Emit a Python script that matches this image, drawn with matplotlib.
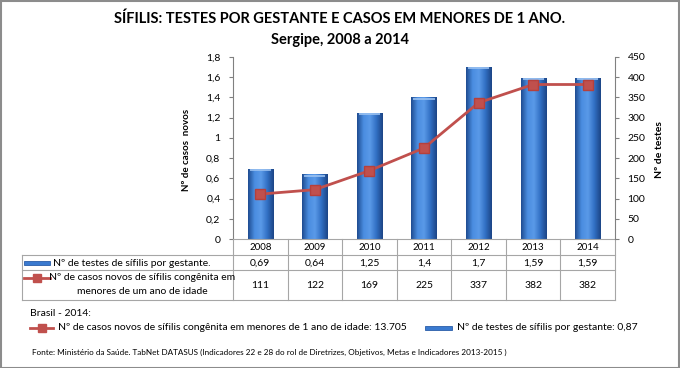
import matplotlib
matplotlib.use('Agg')
import matplotlib.pyplot as plt
import matplotlib.transforms as mtransforms
from matplotlib.lines import Line2D
from matplotlib.patches import Rectangle
import numpy as np

plt.rcParams['font.family'] = ['Lato', 'DejaVu Sans']

years = ['2008', '2009', '2010', '2011', '2012', '2013', '2014']
testes = [0.69, 0.64, 1.25, 1.4, 1.7, 1.59, 1.59]
testes_lbl = ['0,69', '0,64', '1,25', '1,4', '1,7', '1,59', '1,59']
casos = [111, 122, 169, 225, 337, 382, 382]
left_ticks = [0, 0.2, 0.4, 0.6, 0.8, 1.0, 1.2, 1.4, 1.6, 1.8]
left_tick_lbl = ['0', '0,2', '0,4', '0,6', '0,8', '1', '1,2', '1,4', '1,6', '1,8']
right_ticks = [0, 50, 100, 150, 200, 250, 300, 350, 400, 450]
brasil_casos = '13.705'
brasil_testes = '0,87'

W, H = 680, 368
BLUE = '#3A7AD0'
RED = '#C0504D'
GRID = '#A6A6A6'


def fx(px):
    return px / W


def fy(py):
    return 1 - py / H


fig = plt.figure(figsize=(W / 100, H / 100), dpi=100)
fig.patch.set_facecolor('white')
fig.add_artist(Rectangle((0.5 / W, 0.5 / H), 1 - 1.5 / W, 1 - 1.5 / H, transform=fig.transFigure,
                         fill=False, edgecolor='#8C8C8C', lw=1.5))

ax = fig.add_axes([fx(233), fy(239), fx(615) - fx(233), fy(57) - fy(239)])
ax2 = ax.twinx()
ax.set_zorder(1)
ax2.set_zorder(2)
ax.patch.set_visible(False)
ax2.patch.set_visible(False)

x = np.arange(len(years))
bars = ax.bar(x, testes, width=0.46, color=BLUE, edgecolor='none', zorder=2)

# horizontal gradient inside each bar (cylinder look)
grad_cmap = matplotlib.colors.LinearSegmentedColormap.from_list(
    'cyl', ['#1F4C92', '#4A8DE0', '#5A9AE8', '#3270C4', '#1C4586'])
grad = np.linspace(0, 1, 64).reshape(1, -1)
for b in bars:
    bx, by, bw, bh = b.get_x(), b.get_y(), b.get_width(), b.get_height()
    im = ax.imshow(grad, cmap=grad_cmap, extent=[bx, bx + bw, by, by + bh],
                   aspect='auto', zorder=3)
    im.set_clip_path(b)
    ax.plot([bx + bw * 0.08, bx + bw * 0.92], [by + bh - 0.012] * 2, color='#9CC3F2', lw=1.2,
            zorder=4, solid_capstyle='butt')

ax.set_xlim(-0.5, len(years) - 0.5)
ax.set_ylim(0, 1.8)
ax.set_yticks(left_ticks)
ax.set_yticklabels(left_tick_lbl)
ax.set_xticks([])

ax2.plot(x, casos, color=RED, lw=2, marker='s', markersize=7, markerfacecolor=RED,
         markeredgecolor='#B5403C', zorder=5)
ax2.set_ylim(0, 450)
ax2.set_yticks(right_ticks)

for a in (ax, ax2):
    for s in ('top', 'bottom'):
        a.spines[s].set_visible(False)
    a.tick_params(axis='y', labelsize=7.5, length=3, color='#808080', pad=6)
ax.spines['left'].set_color('#808080')
ax.spines['right'].set_visible(False)
ax2.spines['left'].set_visible(False)
ax2.spines['right'].set_color('#808080')

fig.text(fx(186), fy(150), 'Nº de casos  novos', rotation=90, ha='center', va='center',
         fontsize=7, fontweight='bold')
fig.text(fx(660), fy(150), 'Nº de testes', rotation=90, ha='center', va='center',
         fontsize=7.5, fontweight='bold')

fig.text(0.5, fy(19), 'SÍFILIS: TESTES POR GESTANTE E CASOS EM MENORES DE 1 ANO.',
         ha='center', va='center', fontsize=10.5, fontweight='bold')
fig.text(0.5, fy(40), 'Sergipe, 2008 a 2014', ha='center', va='center',
         fontsize=10.5, fontweight='bold')

# data table under the axis
tr = mtransforms.blended_transform_factory(ax.transData, fig.transFigure)
for xv in np.arange(-0.5, len(years)):
    fig.add_artist(Line2D([xv, xv], [fy(239), fy(300)], transform=tr, color=GRID, lw=0.8))
fig.add_artist(Line2D([fx(233), fx(615)], [fy(239)] * 2, transform=fig.transFigure,
                      color=GRID, lw=0.8))
for py in (255, 270, 300):
    fig.add_artist(Line2D([fx(22), fx(615)], [fy(py)] * 2, transform=fig.transFigure,
                          color=GRID, lw=0.8))
fig.add_artist(Line2D([fx(22), fx(22)], [fy(255), fy(300)], transform=fig.transFigure,
                      color=GRID, lw=0.8))

for i, yr in enumerate(years):
    fig.text(x[i], fy(247), yr, transform=tr, ha='center', va='center', fontsize=7)
    fig.text(x[i], fy(263), testes_lbl[i], transform=tr, ha='center', va='center', fontsize=7.5)
    fig.text(x[i], fy(285), str(casos[i]), transform=tr, ha='center', va='center', fontsize=7.5)

fig.add_artist(Rectangle((fx(24), fy(265)), fx(50) - fx(24), 4.5 / H, transform=fig.transFigure,
                         facecolor=BLUE, edgecolor='#2A5DA8', lw=0.6))
fig.text(fx(53), fy(263), 'Nº de testes de sífilis por gestante.', ha='left', va='center',
         fontsize=7.5)
fig.add_artist(Line2D([fx(24), fx(50)], [fy(278)] * 2, transform=fig.transFigure, color=RED,
                      lw=2))
fig.add_artist(Line2D([fx(37)], [fy(278)], transform=fig.transFigure, color=RED, lw=0,
                      marker='s', markersize=6))
fig.text(fx(142), fy(278), 'Nº de casos novos de sífilis congênita em', ha='center',
         va='center', fontsize=7.5)
fig.text(fx(142), fy(292), 'menores de um ano de idade', ha='center', va='center',
         fontsize=7.5)

# Brasil legend
fig.text(fx(30), fy(314), 'Brasil - 2014:', ha='left', va='center', fontsize=7.5)
fig.add_artist(Line2D([fx(30), fx(53)], [fy(328)] * 2, transform=fig.transFigure, color=RED,
                      lw=2))
fig.add_artist(Line2D([fx(41.5)], [fy(328)], transform=fig.transFigure, color=RED, lw=0,
                      marker='s', markersize=6))
fig.text(fx(58), fy(328),
         'Nº de casos novos de sífilis congênita em menores de 1 ano de idade: ' + brasil_casos,
         ha='left', va='center', fontsize=7.5)
fig.add_artist(Rectangle((fx(425), fy(330)), fx(452) - fx(425), 4.5 / H,
                         transform=fig.transFigure, facecolor=BLUE, edgecolor='#2A5DA8', lw=0.6))
fig.text(fx(457), fy(328), 'Nº de testes de sífilis por gestante: ' + brasil_testes,
         ha='left', va='center', fontsize=7.5)

fig.text(fx(32), fy(352),
         'Fonte: Ministério da Saúde. TabNet DATASUS (Indicadores 22 e 28 do rol de Diretrizes, '
         'Objetivos, Metas e Indicadores 2013-2015 )',
         ha='left', va='center', fontsize=5.9)

fig.savefig('out.png', dpi=100)
